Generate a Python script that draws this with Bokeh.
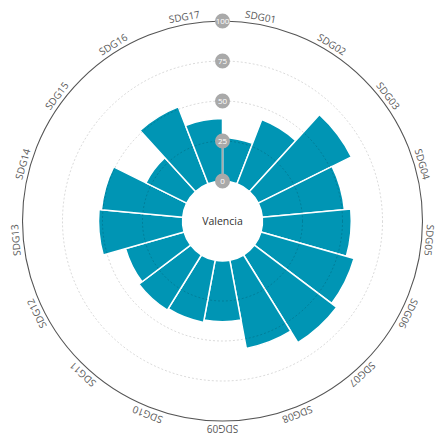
import numpy as np
from bokeh.plotting import figure
from bokeh.models import Range1d, ColumnDataSource
from bokeh.core.properties import value
from bokeh.embed import file_html
from bokeh.resources import INLINE

# ---- data ----
categories = ["SDG01", "SDG02", "SDG03", "SDG04", "SDG05", "SDG06", "SDG07", "SDG08", "SDG09",
              "SDG10", "SDG11", "SDG12", "SDG13", "SDG14", "SDG15", "SDG16", "SDG17"]
scores = [27, 43, 65, 51.5, 55.5, 60.5, 64.5, 56, 38, 39.5, 40.5, 38, 52.5, 51, 28.5, 51.5, 39]
tick_values = [0, 25, 50, 75, 100]
tick_labels = ["0", "25", "50", "75", "100"]
center_label = "Valencia"

# ---- radial scale ----
R0, R1 = 40.0, 200.0
def rad(v):
    return R0 + (np.asarray(v, dtype=float) / 100.0) * (R1 - R0)

n = len(categories)
step = 2 * np.pi / n
theta_a = np.arange(n) * step           # clockwise from top
theta_b = theta_a + step
theta_m = theta_a + step / 2

p = figure(width=437, height=440, x_range=Range1d(-222, 215), y_range=Range1d(-219.5, 220.5),
           output_backend="svg", toolbar_location=None, min_border=0)
p.axis.visible = False
p.grid.visible = False
p.outline_line_color = None
p.background_fill_color = "white"
p.border_fill_color = "white"

bars = ColumnDataSource(dict(
    cat=categories,
    outer=rad(scores),
    start=np.pi / 2 - theta_b,
    end=np.pi / 2 - theta_a,
))
p.annular_wedge(x=0, y=0, inner_radius=R0, outer_radius="outer", start_angle="start",
                end_angle="end", source=bars, fill_color="#0095b4", line_color="white",
                line_width=1.5)

# grid circles
grid_r = rad(tick_values[1:-1])
p.circle(x=[0] * len(grid_r), y=[0] * len(grid_r), radius=grid_r, fill_color=None,
         line_color="black", line_alpha=0.15, line_width=1, line_dash="2 2")
# outer circle
p.circle(x=[0], y=[0], radius=[R1], fill_color=None, line_color="#555555", line_width=1.1)

# center disc
p.circle(x=[0], y=[0], radius=[37], fill_color="white", line_color=None)
p.text(x=[0], y=[0], text=[center_label], text_align="center", text_baseline="middle",
       text_font=value("Open Sans"), text_font_size="10.5px", text_color="#333333")

# radial axis
p.segment(x0=[0], y0=[rad(tick_values[0])], x1=[0], y1=[rad(tick_values[1])],
          line_color="#aaaaaa", line_width=1.5)
ty = rad(tick_values)
p.circle(x=[0] * len(ty), y=ty, radius=7.5, fill_color="#a9a9a9", line_color=None)
p.text(x=[0] * len(ty), y=ty, text=tick_labels, text_align="center", text_baseline="middle",
       text_font=value("Open Sans"), text_font_size="8px", text_color="white")

# category labels
lr = 208
p.text(x=lr * np.sin(theta_m), y=lr * np.cos(theta_m), text=categories, angle=-theta_m,
       text_align="center", text_baseline="middle", text_font=value("Open Sans"),
       text_font_size="10px", text_color="#5a5a5a")

open("out.html", "w").write(file_html(p, INLINE))
